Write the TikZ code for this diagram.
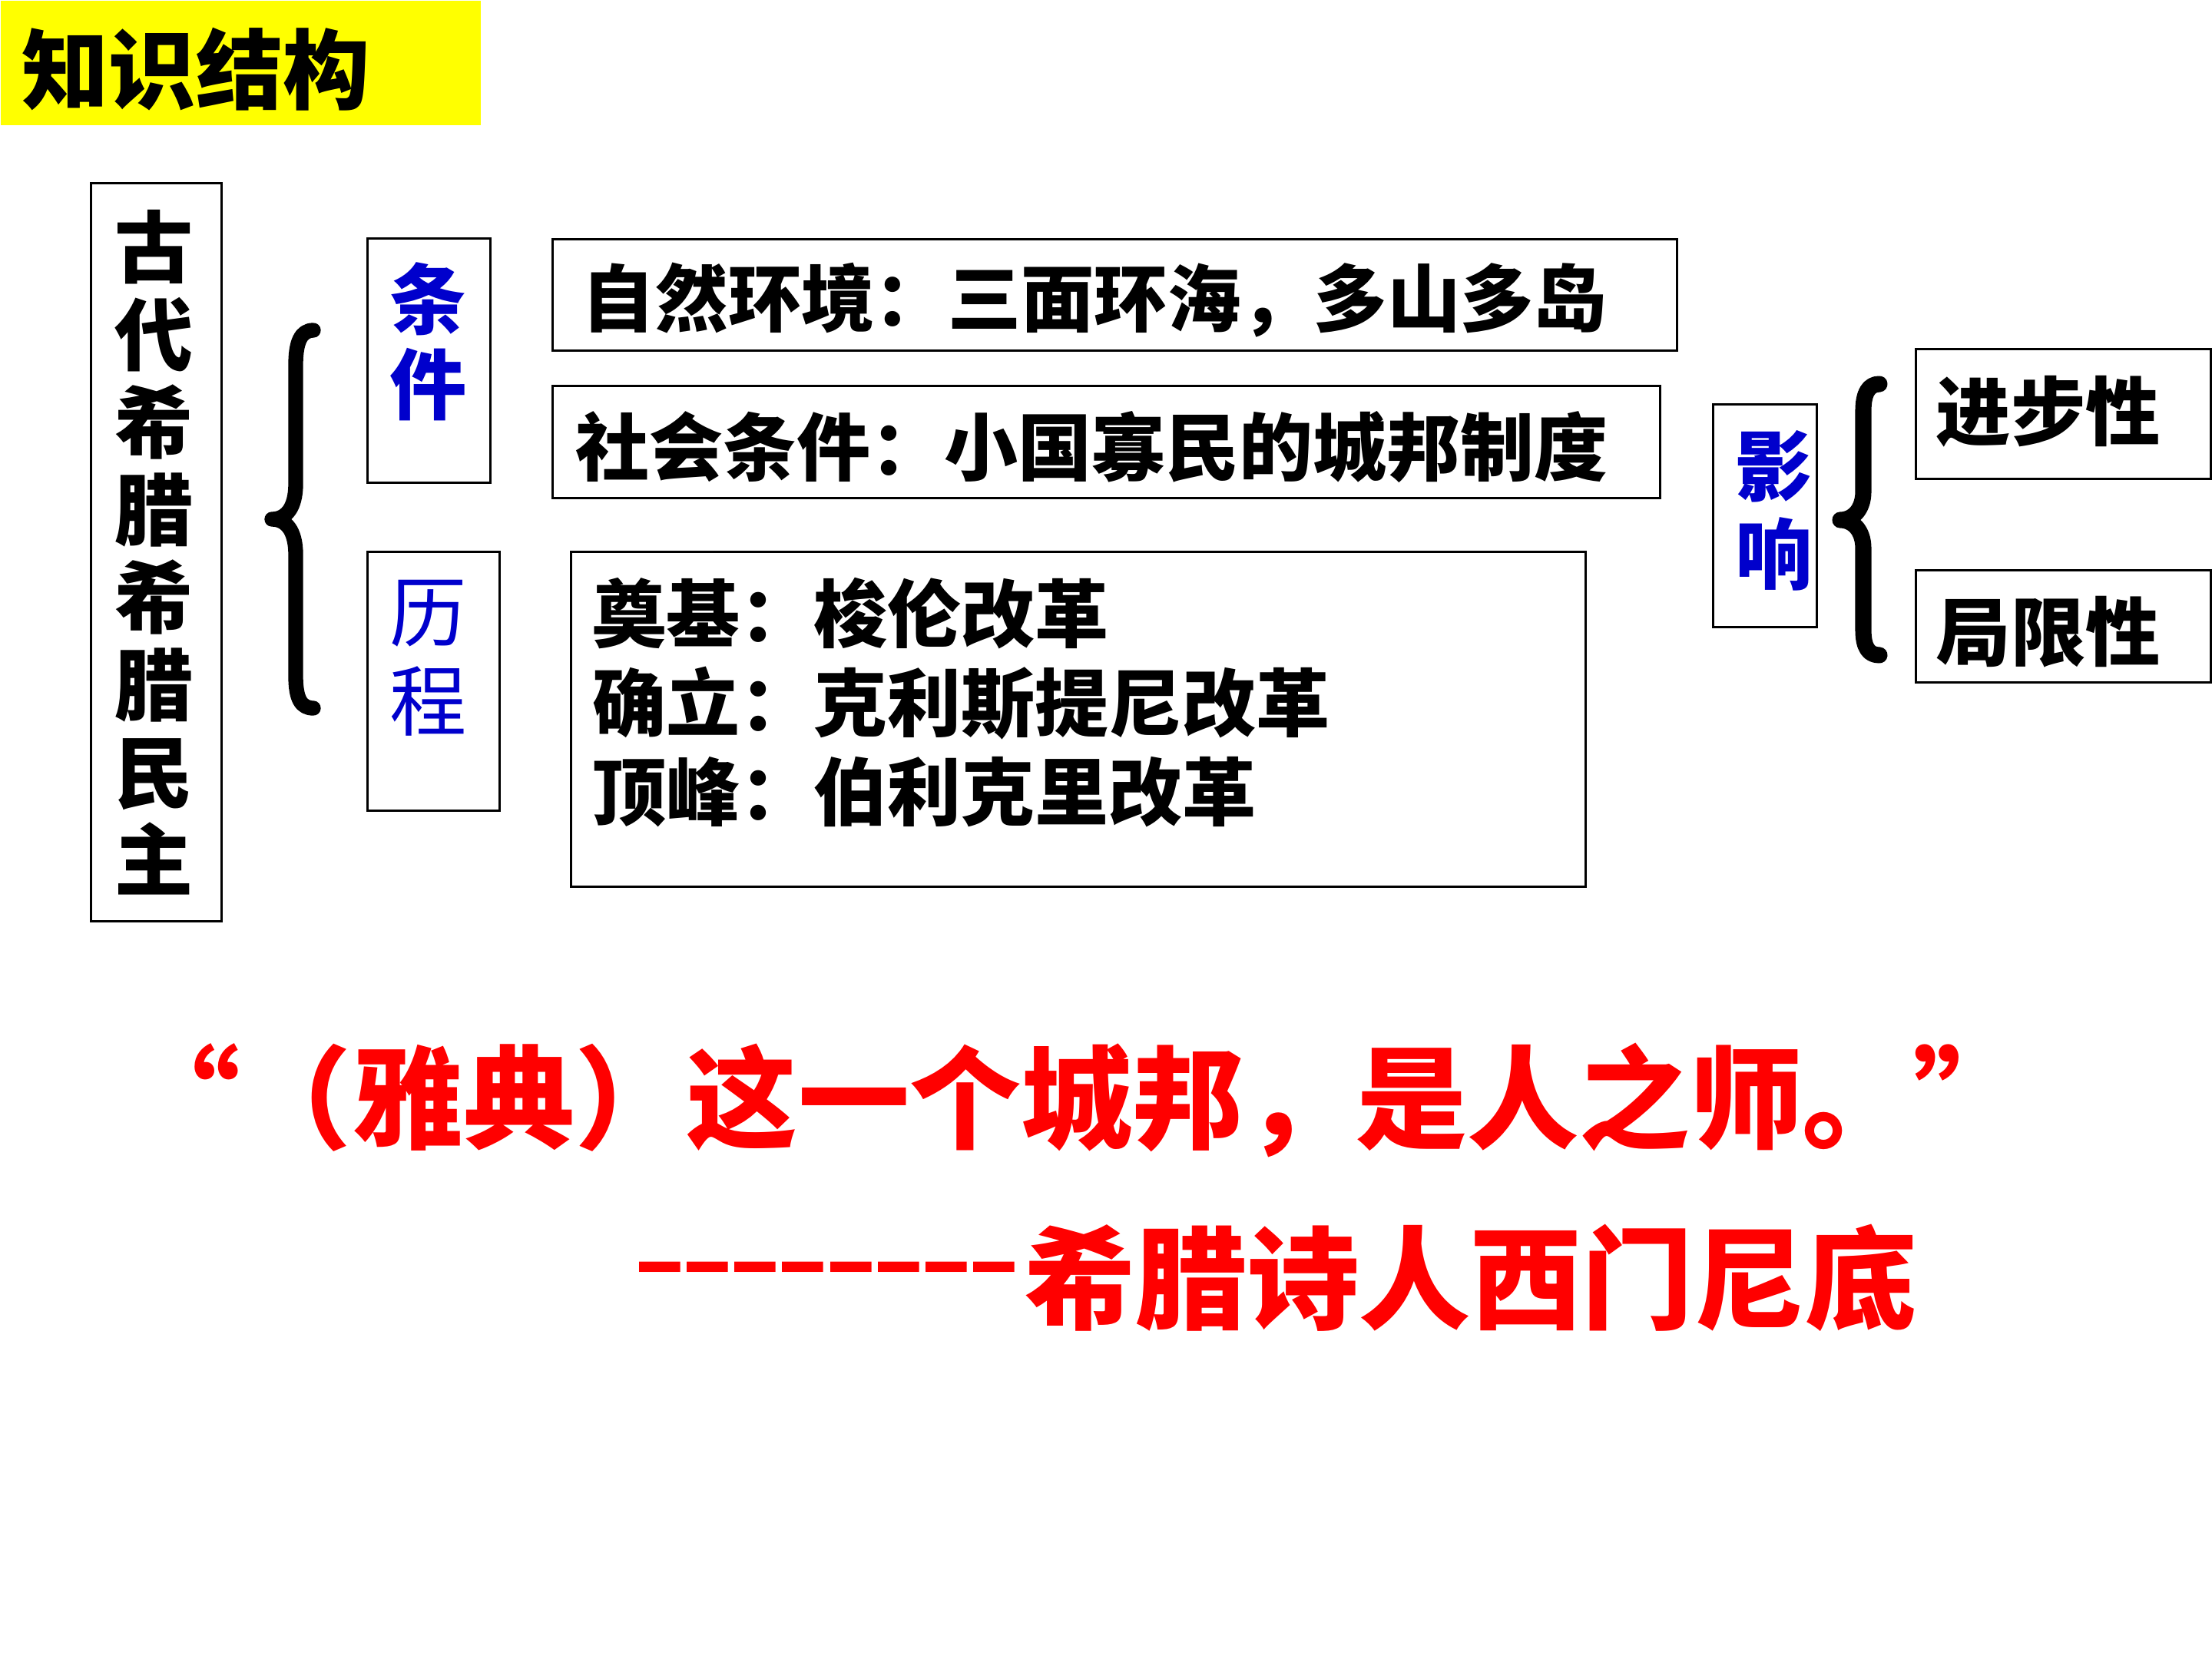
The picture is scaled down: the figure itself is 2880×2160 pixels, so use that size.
\documentclass[tikz,border=0pt]{standalone}
\usepackage{fontspec}
\setmainfont{Noto Sans CJK SC}
\definecolor{cblue}{RGB}{0,0,204}
\definecolor{cred}{RGB}{255,0,0}
\definecolor{cyel}{RGB}{255,255,0}
\tikzset{
  box/.style={draw=black, line width=0.85pt, inner sep=0pt, rectangle},
  txt/.style={inner sep=0pt, anchor=west},
  brace/.style={draw=black, line width=5.5pt, line join=round, line cap=round},
}
\newcommand{\fz}[2]{\bfseries\fontsize{#1}{#2}\selectfont}
\begin{document}
\begin{tikzpicture}[x=0.01cm,y=-0.01cm]
\useasboundingbox (0,0) rectangle (2880,2160);
\fill[white] (0,0) rectangle (2880,2160);
% title
\node[fill=cyel, inner sep=0pt, minimum width=6.25cm, minimum height=1.62cm, anchor=north west] (tb) at (0,0) {};
\node[txt, font=\fz{32.2pt}{32.2pt}] (title) at (28,90) {知识结构};
% left main box
\node[box, minimum width=1.69cm, minimum height=9.60cm] (lb) at (203.5,719) {};
\node[inner sep=0pt, align=center, font=\fz{29pt}{32.4pt}] (lt) at (200,719) {古\\代\\希\\腊\\希\\腊\\民\\主};
% left brace
\draw[brace] (408,430) .. controls (392,430) and (385,445) .. (385,475) -- (385,630)
  .. controls (385,662) and (372,676) .. (354,676)
  .. controls (372,676) and (385,690) .. (385,722) -- (385,880)
  .. controls (385,910) and (392,922) .. (408,922);
% condition / process boxes
\node[box, minimum width=1.59cm, minimum height=3.17cm] (cb) at (558.5,469.5) {};
\node[inner sep=0pt, align=center, text=cblue, font=\fz{28.5pt}{31.6pt}] (ct) at (558,444.5) {条\\件};
\node[box, minimum width=1.71cm, minimum height=3.36cm] (pb) at (564.5,887) {};
\node[inner sep=0pt, align=center, text=cblue, font=\fontsize{28.5pt}{33pt}\selectfont] (pt) at (558,857) {历\\程};
% content boxes
\node[box, minimum width=14.63cm, minimum height=1.44cm] (b1) at (1451.5,384) {};
\node[txt, font=\fz{27.1pt}{27.1pt}] (t1) at (757,391) {自然环境：三面环海，多山多岛};
\node[box, minimum width=14.41cm, minimum height=1.45cm] (b2) at (1440.5,575.5) {};
\node[txt, font=\fz{27.3pt}{27.3pt}] (t2) at (749,582) {社会条件：小国寡民的城邦制度};
\node[box, minimum width=13.20cm, minimum height=4.35cm] (b3) at (1404,936.5) {};
\node[txt, font=\fz{27.3pt}{27.3pt}] (t3a) at (771,799) {奠基：梭伦改革};
\node[txt, font=\fz{27.3pt}{27.3pt}] (t3b) at (771,916) {确立：克利斯提尼改革};
\node[txt, font=\fz{27.3pt}{27.3pt}] (t3c) at (771,1031) {顶峰：伯利克里改革};
% influence
\node[box, minimum width=1.34cm, minimum height=2.89cm] (ib) at (2298,671.5) {};
\node[inner sep=0pt, align=center, text=cblue, font=\fz{28.5pt}{32.7pt}] (it) at (2310,664.5) {影\\响};
\draw[brace, line width=6pt] (2447,500) .. controls (2433,500) and (2426,512) .. (2426,535) -- (2426,640)
  .. controls (2426,664) and (2412,677) .. (2396,677)
  .. controls (2412,677) and (2426,690) .. (2426,714) -- (2426,820)
  .. controls (2426,843) and (2433,853) .. (2447,853);
\node[box, minimum width=3.83cm, minimum height=1.68cm] (rb1) at (2686.5,539) {};
\node[txt, font=\fz{27.7pt}{27.7pt}] (r1) at (2520,536) {进步性};
\node[box, minimum width=3.83cm, minimum height=1.45cm] (rb2) at (2686.5,815.5) {};
\node[txt, font=\fz{27.7pt}{27.7pt}] (r2) at (2520,823) {局限性};
% quote
\node[txt, text=cred, font=\fz{41.3pt}{41.3pt}] (q1) at (167,1432) {\makebox[1em][r]{“}（雅典）这一个城邦，是人之师。\makebox[1em][l]{”}};
\node[txt, text=cred, font=\fz{34pt}{34pt}] (dash) at (826,1664) {\hbox to 5cm{–\hss–\hss–\hss–\hss–\hss–\hss–\hss–}};
\node[txt, text=cred, font=\fz{41.3pt}{41.3pt}] (q2) at (1333,1664) {希腊诗人西门尼底};
\end{tikzpicture}
\end{document}
